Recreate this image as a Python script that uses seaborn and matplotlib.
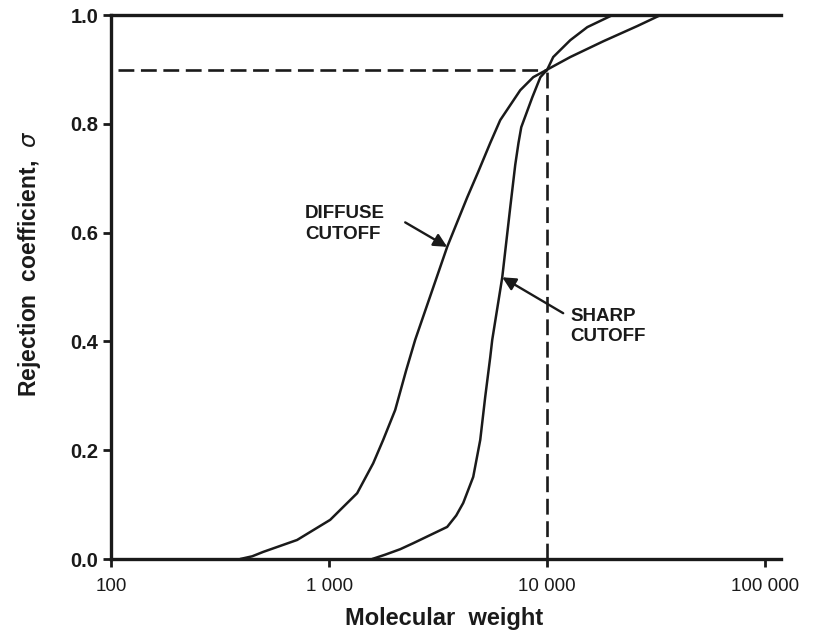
import numpy as np
import pandas as pd
import matplotlib
matplotlib.use('Agg')
import matplotlib.pyplot as plt
import seaborn as sns

# values (molecular weight vs rejection coefficient)
diffuse_mw = [391, 444, 498, 713, 1011, 1344, 1592, 1769, 2008, 2255, 2480, 3477, 4296, 4825, 5477,
              6086, 7518, 8626, 10000, 12750, 18070, 25870, 32990]
diffuse_sigma = [0.0, 0.005, 0.013, 0.035, 0.072, 0.121, 0.176, 0.219, 0.274, 0.347, 0.403, 0.574, 0.665,
                 0.712, 0.765, 0.807, 0.862, 0.886, 0.90, 0.923, 0.952, 0.980, 1.0]

sharp_mw = [1575, 1808, 2117, 2428, 3477, 3825, 4118, 4577, 4929, 5194, 5477, 5594, 6218, 6767, 7133,
            7380, 7600, 8540, 9300, 10000, 10650, 12750, 15260, 19870]
sharp_sigma = [0.0, 0.008, 0.018, 0.029, 0.059, 0.080, 0.103, 0.151, 0.219, 0.298, 0.371, 0.403, 0.518,
               0.647, 0.725, 0.765, 0.794, 0.849, 0.886, 0.90, 0.923, 0.954, 0.978, 1.0]

cutoff_mw = 10000
cutoff_sigma = 0.9

x_ticks = [100, 1000, 10000, 100000]
x_labels = ['100', '1 000', '10 000', '100 000']
y_ticks = [0.0, 0.2, 0.4, 0.6, 0.8, 1.0]

sns.set_style('ticks')
plt.rcParams['font.family'] = ['Liberation Sans', 'DejaVu Sans']

fig = plt.figure(figsize=(8.17, 6.32), dpi=100)
ax = fig.add_axes([0.1359, 0.1155, 0.8201, 0.8605])

ink = '#1a1a1a'

df_d = pd.DataFrame({'mw': diffuse_mw, 'sigma': diffuse_sigma})
df_s = pd.DataFrame({'mw': sharp_mw, 'sigma': sharp_sigma})
sns.lineplot(data=df_d, x='mw', y='sigma', ax=ax, color=ink, lw=1.8, estimator=None, sort=False)
sns.lineplot(data=df_s, x='mw', y='sigma', ax=ax, color=ink, lw=1.8, estimator=None, sort=False)

# dashed guide lines at the 90% cutoff
ax.plot([108, cutoff_mw], [cutoff_sigma, cutoff_sigma], color=ink, lw=1.9, ls=(0, (6, 2.5)))
ax.plot([cutoff_mw, cutoff_mw], [0, cutoff_sigma], color=ink, lw=1.9, ls=(0, (6, 2.5)))

ax.set_xscale('log')
ax.set_xlim(100, 118000)
ax.set_ylim(0, 1.0)
ax.set_xticks(x_ticks)
ax.set_xticklabels(x_labels)
ax.xaxis.set_minor_locator(matplotlib.ticker.NullLocator())
ax.set_yticks(y_ticks)
ax.set_yticklabels([f'{v:.1f}' for v in y_ticks], fontweight='bold')

for side in ['left', 'bottom', 'top']:
    ax.spines[side].set_linewidth(2.4)
    ax.spines[side].set_color(ink)
ax.spines['right'].set_visible(False)
ax.tick_params(axis='both', direction='out', length=6, width=2, color=ink, labelcolor=ink)
ax.tick_params(axis='x', pad=8, labelsize=13.5)
ax.tick_params(axis='y', pad=3, labelsize=14.5)

ax.set_xlabel('')
ax.set_ylabel('')
fig.text(444 / 817, 1 - 619 / 632, 'Molecular  weight', fontsize=17, fontweight='bold',
         color=ink, ha='center', va='center')
fig.text(30 / 817, 1 - 264 / 632, r'Rejection  coefficient,  $\sigma$', fontsize=16.5, fontweight='bold',
         color=ink, ha='center', va='center', rotation=90)

# curve labels with arrows
ax.text(776, 0.616, 'DIFFUSE\nCUTOFF', fontsize=13.5, fontweight='bold', color=ink,
        ha='left', va='center', linespacing=1.25)
ax.annotate('', xy=(3477, 0.574), xytext=(2232, 0.619),
            arrowprops=dict(arrowstyle='-|>', color=ink, lw=1.7, mutation_scale=20, shrinkA=0, shrinkB=0))
ax.text(12750, 0.428, 'SHARP\nCUTOFF', fontsize=13.5, fontweight='bold', color=ink,
        ha='left', va='center', linespacing=1.25)
ax.annotate('', xy=(6218, 0.518), xytext=(11830, 0.452),
            arrowprops=dict(arrowstyle='-|>', color=ink, lw=1.7, mutation_scale=20, shrinkA=0, shrinkB=0))

fig.savefig('out.png', dpi=100, facecolor='white')
